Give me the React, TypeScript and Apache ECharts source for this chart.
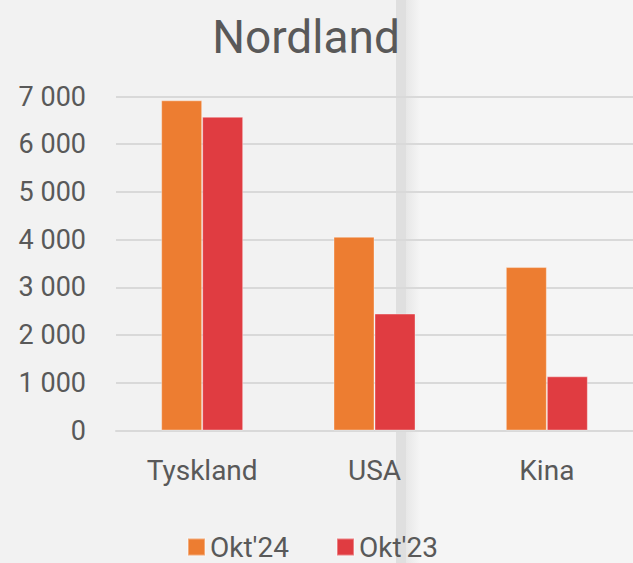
import React, { useEffect, useRef } from "react";
import * as echarts from "echarts";

const categories = ["Tyskland", "USA", "Kina"];
const seriesNames = ["Okt'24", "Okt'23"];
const okt24 = [6920, 4060, 3425];
const okt23 = [6575, 2450, 1135];
const yTicks = { min: 0, max: 7000, interval: 1000 };

const FONT = "Roboto, sans-serif";
const TXT = "#595959";

const fmt = (v: number) => String(v).replace(/\B(?=(\d{3})+(?!\d))/g, " ");

export default function App() {
  const ref = useRef<HTMLDivElement>(null);
  useEffect(() => {
    if (!ref.current) return;
    const chart = echarts.init(ref.current, undefined, { renderer: "svg" });
    chart.setOption({
      animation: false,
      backgroundColor: "#f2f2f2",
      textStyle: { fontFamily: FONT },
      graphic: [
        { type: "rect", z: -10, shape: { x: 405, y: 0, width: 240, height: 563 }, style: { fill: "#f5f5f5" } },
        { type: "rect", z: -9, shape: { x: 396, y: 0, width: 10, height: 563 }, style: { fill: "#dfdfdf" } },
        {
          type: "rect", z: -9, shape: { x: 406, y: 0, width: 14, height: 563 },
          style: {
            fill: new echarts.graphic.LinearGradient(0, 0, 1, 0, [
              { offset: 0, color: "#e7e7e7" },
              { offset: 1, color: "#f5f5f5" },
            ]),
          },
        },
      ],
      title: {
        text: "Nordland",
        left: 301,
        textAlign: "center",
        top: 9,
        textStyle: { fontFamily: FONT, fontSize: 46, fontWeight: "normal", color: TXT },
      },
      legend: {
        data: seriesNames,
        left: 182,
        top: 528,
        itemWidth: 17,
        itemHeight: 17,
        itemGap: 47,
        icon: "rect",
        textStyle: { fontFamily: FONT, fontSize: 28, lineHeight: 24, color: TXT },
      },
      grid: { left: 116, right: 0, top: 96.5, bottom: 132.5, containLabel: false },
      xAxis: {
        type: "category",
        data: categories,
        axisLine: { lineStyle: { color: "#d9d9d9", width: 2 } },
        axisTick: { show: false },
        axisLabel: { fontFamily: FONT, fontSize: 28, color: TXT, margin: 26 },
      },
      yAxis: {
        type: "value",
        min: yTicks.min,
        max: yTicks.max,
        interval: yTicks.interval,
        axisLine: { show: false },
        axisTick: { show: false },
        splitLine: { lineStyle: { color: "#d9d9d9", width: 2 } },
        axisLabel: { fontFamily: FONT, fontSize: 27, color: TXT, margin: 30, formatter: (v: number) => fmt(v) },
      },
      series: [
        {
          name: seriesNames[0], type: "bar", data: okt24, barWidth: 41, barGap: "0%",
          itemStyle: { color: "#ED7D31", borderColor: "rgba(255,255,255,0.35)", borderWidth: 1 },
        },
        {
          name: seriesNames[1], type: "bar", data: okt23, barWidth: 41, barGap: "0%",
          itemStyle: { color: "#E03C41", borderColor: "rgba(255,255,255,0.35)", borderWidth: 1 },
        },
      ],
    });
    return () => chart.dispose();
  }, []);
  return <div ref={ref} style={{ position: "fixed", left: 0, top: 0, width: 633, height: 563 }} />;
}
